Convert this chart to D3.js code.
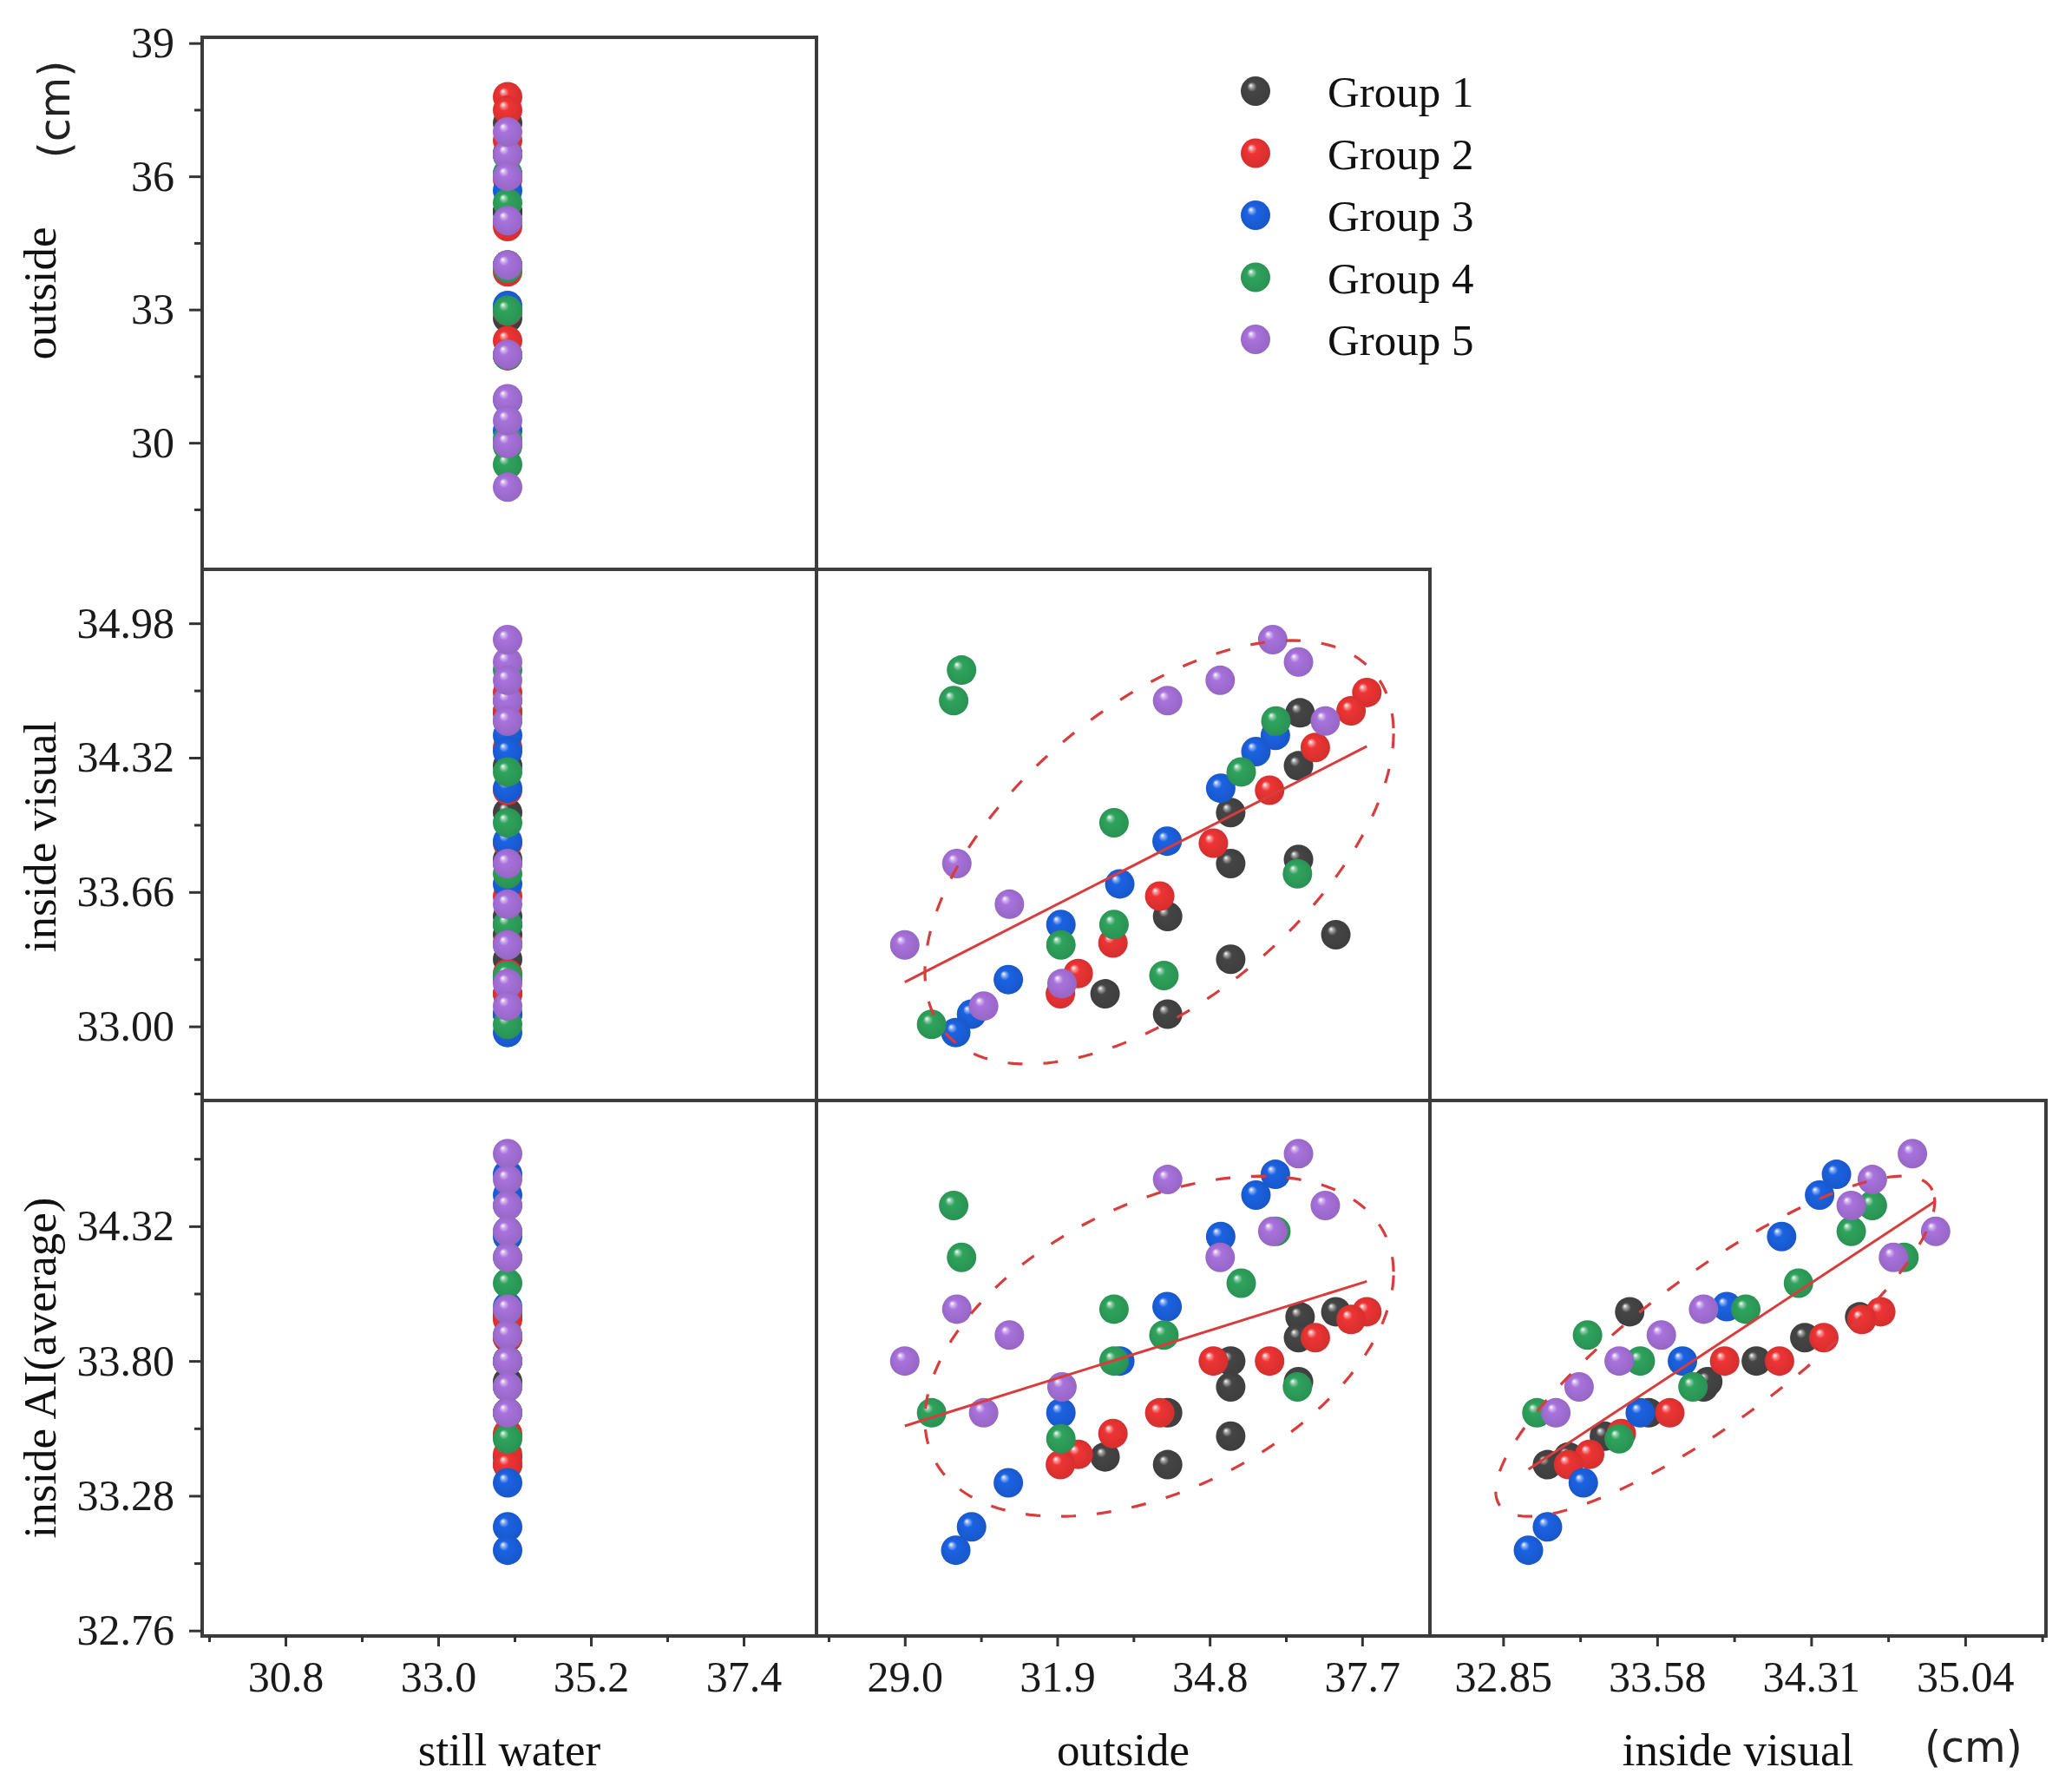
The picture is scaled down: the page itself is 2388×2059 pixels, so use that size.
<!DOCTYPE html>
<html><head><meta charset="utf-8">
<script src="https://cdn.jsdelivr.net/npm/d3@7/dist/d3.min.js"></script>
<style>body{margin:0;background:#fff;} svg{display:block;}</style>
</head><body>
<svg id="chart" width="2388" height="2059"></svg>
<script>
// ---------------- DATA ----------------
const groups = ["Group 1", "Group 2", "Group 3", "Group 4", "Group 5"];
const groupColors = ["#454545", "#ee3434", "#1b62e2", "#2fa35d", "#a872dc"];
const varNames = ["still water", "outside", "inside visual", "inside AI(average)"];

const stillWater1 = [34.0, 34.0, 34.0, 34.0, 34.0, 34.0, 34.0, 34.0, 34.0, 34.0];
const outside1    = [36.52, 36.49, 35.20, 35.20, 36.49, 34.00, 37.20, 35.20, 32.81, 34.00];
const visual1     = [34.54, 34.28, 34.05, 33.80, 33.82, 33.54, 33.45, 33.33, 33.16, 33.06];
const ai1         = [33.97, 33.89, 33.80, 33.70, 33.72, 33.60, 33.99, 33.51, 33.43, 33.40];

const stillWater2 = [34.0, 34.0, 34.0, 34.0, 34.0, 34.0, 34.0, 34.0, 34.0];
const outside2    = [37.79, 37.49, 36.81, 35.94, 34.87, 33.85, 32.96, 32.30, 31.96];
const visual2     = [34.64, 34.55, 34.37, 34.16, 33.90, 33.64, 33.41, 33.26, 33.16];
const ai2         = [33.99, 33.96, 33.89, 33.80, 33.80, 33.60, 33.52, 33.44, 33.40];

const stillWater3 = [34.0, 34.0, 34.0, 34.0, 34.0, 34.0, 34.0, 34.0, 34.0];
const outside3    = [36.05, 35.68, 35.01, 33.99, 33.09, 31.97, 30.97, 30.27, 29.97];
const visual3     = [34.43, 34.35, 34.17, 33.91, 33.70, 33.50, 33.23, 33.06, 32.97];
const ai3         = [34.52, 34.44, 34.28, 34.01, 33.80, 33.60, 33.33, 33.16, 33.07];

const stillWater4 = [34.0, 34.0, 34.0, 34.0, 34.0, 34.0, 34.0, 34.0, 34.0, 34.0];
const outside4    = [29.93, 36.06, 30.08, 35.40, 32.98, 33.93, 32.98, 36.47, 29.51, 31.97];
const visual4     = [34.60, 34.50, 34.75, 34.25, 34.00, 33.25, 33.50, 33.75, 33.01, 33.40];
const ai4         = [34.40, 34.30, 34.20, 34.10, 34.00, 33.90, 33.80, 33.70, 33.60, 33.50];

const stillWater5 = [34.0, 34.0, 34.0, 34.0, 34.0, 34.0, 34.0, 34.0, 34.0, 34.0];
const outside5    = [36.49, 34.00, 37.00, 36.00, 35.00, 29.99, 30.99, 29.00, 31.99, 30.50];
const visual5     = [34.79, 34.60, 34.50, 34.90, 34.70, 33.80, 33.60, 33.40, 33.21, 33.10];
const ai5         = [34.60, 34.50, 34.40, 34.30, 34.20, 34.00, 33.90, 33.80, 33.70, 33.60];

// axis domains
const stillDomain   = [29.6, 38.45];
const outsideXDom   = [27.32, 38.99];
const visualXDom    = [32.503, 35.423];
const outsideYDom   = [27.15, 39.13];
const visualYDom    = [32.636, 35.245];
const aiYDom        = [32.739, 34.805];

// tick values and labels
const stillTicks      = [30.8, 33.0, 35.2, 37.4];
const stillTickLabels = ["30.8", "33.0", "35.2", "37.4"];
const stillMinor      = [29.7, 31.9, 34.1, 36.3];
const outXTicks       = [29.0, 31.9, 34.8, 37.7];
const outXTickLabels  = ["29.0", "31.9", "34.8", "37.7"];
const outXMinor       = [27.55, 30.45, 33.35, 36.25];
const visXTicks       = [32.85, 33.58, 34.31, 35.04];
const visXTickLabels  = ["32.85", "33.58", "34.31", "35.04"];
const visXMinor       = [33.215, 33.945, 34.675, 35.405];
const outYTicks       = [30, 33, 36, 39];
const outYTickLabels  = ["30", "33", "36", "39"];
const outYMinor       = [28.5, 31.5, 34.5, 37.5];
const visYTicks       = [33.00, 33.66, 34.32, 34.98];
const visYTickLabels  = ["33.00", "33.66", "34.32", "34.98"];
const visYMinor       = [32.67, 33.33, 33.99, 34.65];
const aiYTicks        = [32.76, 33.28, 33.80, 34.32];
const aiYTickLabels   = ["32.76", "33.28", "33.80", "34.32"];
const aiYMinor        = [33.02, 33.54, 34.06, 34.58];

const ellipseLevel = 0.80;

// ---------------- BUILD ----------------
const vars = [
  [stillWater1, stillWater2, stillWater3, stillWater4, stillWater5],
  [outside1, outside2, outside3, outside4, outside5],
  [visual1, visual2, visual3, visual4, visual5],
  [ai1, ai2, ai3, ai4, ai5]
];

const svg = d3.select("#chart");
const serif = "'Liberation Serif','Times New Roman',serif";
const sans = "'DejaVu Sans','Noto Sans',sans-serif";

const colX = [[233, 941], [941, 1648], [1648, 2358]];
const rowY = [[43, 656], [656, 1268], [1268, 1885]];

const xScales = [
  d3.scaleLinear().domain(stillDomain).range(colX[0]),
  d3.scaleLinear().domain(outsideXDom).range(colX[1]),
  d3.scaleLinear().domain(visualXDom).range(colX[2])
];
const yScales = [
  d3.scaleLinear().domain(outsideYDom).range([rowY[0][1], rowY[0][0]]),
  d3.scaleLinear().domain(visualYDom).range([rowY[1][1], rowY[1][0]]),
  d3.scaleLinear().domain(aiYDom).range([rowY[2][1], rowY[2][0]])
];
const xTickSets = [[stillTicks, stillTickLabels, stillMinor], [outXTicks, outXTickLabels, outXMinor], [visXTicks, visXTickLabels, visXMinor]];
const yTickSets = [[outYTicks, outYTickLabels, outYMinor], [visYTicks, visYTickLabels, visYMinor], [aiYTicks, aiYTickLabels, aiYMinor]];

// gradients
const defs = svg.append("defs");
groupColors.forEach((c, i) => {
  const g = defs.append("radialGradient").attr("id", "ball" + i)
    .attr("cx", "50%").attr("cy", "50%").attr("r", "55%").attr("fx", "33%").attr("fy", "30%");
  const base = d3.color(c);
  g.append("stop").attr("offset", "0%").attr("stop-color", "#ffffff");
  g.append("stop").attr("offset", "14%").attr("stop-color", d3.interpolateRgb(c, "#ffffff")(0.45));
  g.append("stop").attr("offset", "30%").attr("stop-color", c);
  g.append("stop").attr("offset", "100%").attr("stop-color", base.darker(0.35).formatHex());
});

// frames
for (let r = 0; r < 3; r++) {
  for (let c = 0; c <= r; c++) {
    svg.append("rect")
      .attr("x", xScales[c].range()[0]).attr("y", yScales[r].range()[1])
      .attr("width", xScales[c].range()[1] - xScales[c].range()[0])
      .attr("height", yScales[r].range()[0] - yScales[r].range()[1])
      .attr("fill", "none").attr("stroke", "#3c3c3c").attr("stroke-width", 4);
  }
}

// axes
function styleAxis(g, fontSize) {
  g.select(".domain").remove();
  g.selectAll("line").attr("stroke", "#333").attr("stroke-width", 3);
  g.selectAll("text").attr("font-family", serif).attr("font-size", fontSize).attr("fill", "#1a1a1a");
}
for (let r = 0; r < 3; r++) {
  const [tv, tl, mn] = yTickSets[r];
  const gMaj = svg.append("g").attr("transform", `translate(${colX[0][0]},0)`)
    .call(d3.axisLeft(yScales[r]).tickValues(tv).tickFormat((d, i) => tl[i]).tickSize(15).tickPadding(17));
  styleAxis(gMaj, 50);
  const gMin = svg.append("g").attr("transform", `translate(${colX[0][0]},0)`)
    .call(d3.axisLeft(yScales[r]).tickValues(mn).tickFormat("").tickSize(9));
  styleAxis(gMin, 50);
}
for (let c = 0; c < 3; c++) {
  const [tv, tl, mn] = xTickSets[c];
  const gMaj = svg.append("g").attr("transform", `translate(0,${rowY[2][1]})`)
    .call(d3.axisBottom(xScales[c]).tickValues(tv).tickFormat((d, i) => tl[i]).tickSize(12).tickPadding(16));
  styleAxis(gMaj, 50);
  const gMin = svg.append("g").attr("transform", `translate(0,${rowY[2][1]})`)
    .call(d3.axisBottom(xScales[c]).tickValues(mn).tickFormat("").tickSize(7));
  styleAxis(gMin, 50);
}

// points
const R = 17;
for (let r = 0; r < 3; r++) {
  for (let c = 0; c <= r; c++) {
    const layer = svg.append("g");
    for (let g = 0; g < groups.length; g++) {
      const xv = vars[c][g], yv = vars[r + 1][g];
      layer.selectAll(null).data(d3.range(xv.length)).join("circle")
        .attr("cx", i => xScales[c](xv[i])).attr("cy", i => yScales[r](yv[i]))
        .attr("r", R).attr("fill", `url(#ball${g})`);
    }
  }
}

// fits and ellipses (drawn over the points)
const kScale = Math.sqrt(-2 * Math.log(1 - ellipseLevel));
const fitColor = "#d83c3c";
for (let r = 1; r < 3; r++) {
  for (let c = 1; c <= r; c++) {
    const xs = vars[c].flat(), ys = vars[r + 1].flat();
    const n = xs.length, mx = d3.mean(xs), my = d3.mean(ys);
    let sxx = 0, syy = 0, sxy = 0;
    for (let i = 0; i < n; i++) { const dx = xs[i] - mx, dy = ys[i] - my; sxx += dx * dx; syy += dy * dy; sxy += dx * dy; }
    sxx /= (n - 1); syy /= (n - 1); sxy /= (n - 1);
    const slope = sxy / sxx, icpt = my - slope * mx;
    const xsc = xScales[c], ysc = yScales[r];
    const x0 = d3.min(xs), x1 = d3.max(xs);
    svg.append("line")
      .attr("x1", xsc(x0)).attr("y1", ysc(icpt + slope * x0))
      .attr("x2", xsc(x1)).attr("y2", ysc(icpt + slope * x1))
      .attr("stroke", fitColor).attr("stroke-width", 3);
    const tr = sxx + syy, det = sxx * syy - sxy * sxy;
    const disc = Math.sqrt(tr * tr / 4 - det);
    const l1 = tr / 2 + disc, l2 = tr / 2 - disc;
    const th = 0.5 * Math.atan2(2 * sxy, sxx - syy);
    const pts = d3.range(0, 361, 2).map(a => {
      const t = a * Math.PI / 180;
      const u = kScale * Math.sqrt(l1) * Math.cos(t), v = kScale * Math.sqrt(l2) * Math.sin(t);
      return [mx + u * Math.cos(th) - v * Math.sin(th), my + u * Math.sin(th) + v * Math.cos(th)];
    });
    svg.append("path")
      .attr("d", d3.line().x(d => xsc(d[0])).y(d => ysc(d[1]))(pts))
      .attr("fill", "none").attr("stroke", fitColor).attr("stroke-width", 3.2)
      .attr("stroke-dasharray", "17,24");
  }
}

// axis titles
const xTitleY = 2034;
[0, 1, 2].forEach(c => {
  svg.append("text").attr("x", d3.mean(colX[c])).attr("y", xTitleY)
    .attr("text-anchor", "middle").attr("font-family", serif).attr("font-size", 53).attr("fill", "#111")
    .text(varNames[c]);
});
svg.append("text").attr("x", 2218).attr("y", 2030).attr("font-family", sans).attr("font-size", 49)
  .attr("fill", "#222").text("(cm)");

[1, 2, 3].forEach((v, r) => {
  const yPos = [338, 964, 1576][r];
  svg.append("text").attr("transform", `translate(64,${yPos}) rotate(-90)`)
    .attr("text-anchor", "middle").attr("font-family", serif).attr("font-size", 53).attr("fill", "#111")
    .text(varNames[v]);
});
svg.append("text").attr("transform", `translate(80,126) rotate(-90)`)
  .attr("text-anchor", "middle").attr("font-family", sans).attr("font-size", 49).attr("fill", "#222")
  .text("(cm)");

// legend
const legY0 = 105, legStep = 71.5;
groups.forEach((name, i) => {
  svg.append("circle").attr("cx", 1447).attr("cy", legY0 + i * legStep).attr("r", 17)
    .attr("fill", `url(#ball${i})`);
  svg.append("text").attr("x", 1530).attr("y", legY0 + i * legStep + 18)
    .attr("font-family", serif).attr("font-size", 51).attr("fill", "#111").text(name);
});
</script>
</body></html>
